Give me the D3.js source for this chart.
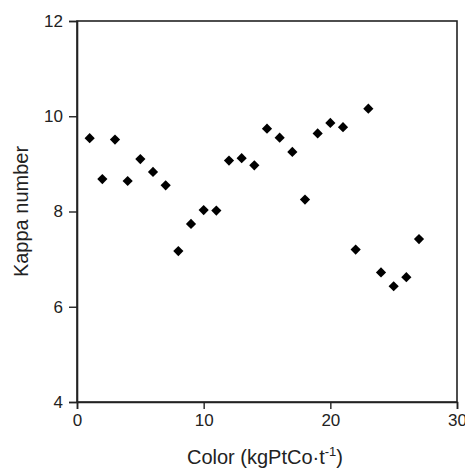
<!DOCTYPE html>
<html>
<head>
<meta charset="utf-8">
<script src="https://cdn.jsdelivr.net/npm/d3@7"></script>
<style>
  body { margin: 0; background: #fff; }
  svg { display: block; font-family: "Liberation Sans", Arial, sans-serif; }
</style>
</head>
<body>
<svg width="465" height="468"></svg>
<script>
// colour values (x) and kappa numbers (y)
const color = [1, 2, 3, 4, 5, 6, 7, 8, 9, 10, 11, 12, 13, 14, 15, 16, 17, 18, 19, 20, 21, 22, 23, 24, 25, 26, 27];
const kappa = [9.54, 8.68, 9.51, 8.64, 9.10, 8.83, 8.55, 7.17, 7.74, 8.03, 8.02, 9.07, 9.12, 8.97,
               9.74, 9.55, 9.25, 8.25, 9.64, 9.86, 9.77, 7.20, 10.16, 6.72, 6.43, 6.62, 7.42];
const xTicks = [0, 10, 20, 30];
const yTicks = [4, 6, 8, 10, 12];

const svg = d3.select('svg');
const mLeft = 77, mRight = 457, mTop = 21, mBottom = 402;

const x = d3.scaleLinear().domain([0, 30]).range([mLeft, mRight]);
const y = d3.scaleLinear().domain([4, 12]).range([mBottom, mTop]);

// frame
svg.append('rect')
  .attr('x', mLeft).attr('y', mTop)
  .attr('width', mRight - mLeft).attr('height', mBottom - mTop)
  .attr('fill', 'none').attr('stroke', '#222').attr('stroke-width', 1.6);

const xAxis = svg.append('g')
  .attr('transform', `translate(0,${mBottom})`)
  .call(d3.axisBottom(x).tickValues(xTicks).tickSize(7).tickPadding(5));
const yAxis = svg.append('g')
  .attr('transform', `translate(${mLeft},0)`)
  .call(d3.axisLeft(y).tickValues(yTicks).tickSize(8).tickPadding(6));

[xAxis, yAxis].forEach(g => {
  g.select('.domain').attr('stroke', '#222').attr('stroke-width', 1.6);
  g.selectAll('.tick line').attr('stroke', '#222').attr('stroke-width', 1.4);
  g.selectAll('.tick text').attr('fill', '#222').style('font-size', '17px');
});

// points
const diamond = d3.symbol().type(d3.symbolSquare).size(52);
svg.append('g').selectAll('path')
  .data(color)
  .enter()
  .append('path')
  .attr('d', diamond)
  .attr('fill', '#000')
  .attr('transform', (d, i) => `translate(${x(d)},${y(kappa[i])}) rotate(45)`);

// axis titles
svg.append('text')
  .attr('x', 265)
  .attr('y', 464)
  .attr('text-anchor', 'middle')
  .attr('fill', '#222')
  .style('font-size', '20px')
  .html('Color (kgPtCo·t<tspan dy="-8" font-size="13">-1</tspan><tspan dy="8">)</tspan>');

svg.append('text')
  .attr('transform', `translate(28,${(mTop + mBottom) / 2}) rotate(-90)`)
  .attr('text-anchor', 'middle')
  .attr('fill', '#222')
  .style('font-size', '20px')
  .text('Kappa number');
</script>
</body>
</html>
